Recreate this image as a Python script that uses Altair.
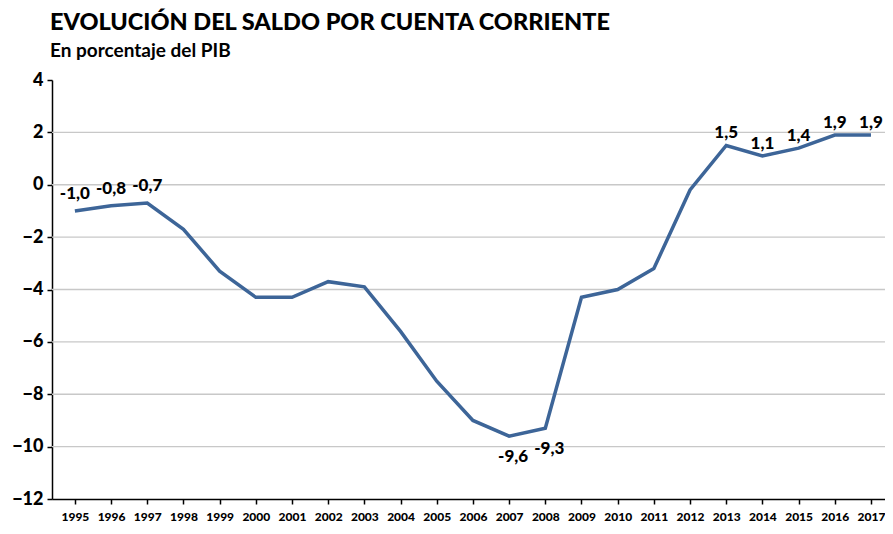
import altair as alt
import pandas as pd

years = [str(y) for y in range(1995, 2018)]
values = [-1.0, -0.8, -0.7, -1.7, -3.3, -4.3, -4.3, -3.7, -3.9, -5.6, -7.5, -9.0,
          -9.6, -9.3, -4.3, -4.0, -3.2, -0.2, 1.5, 1.1, 1.4, 1.9, 1.9]
labels_above_left = ["1995", "1996", "1997"]
labels_above_right = ["2013", "2014", "2015", "2016", "2017"]
labels_below = ["2007", "2008"]
grid_values = [2, 0, -2, -4, -6, -8, -10]
y_ticks = [4, 2, 0, -2, -4, -6, -8, -10, -12]

df = pd.DataFrame({"year": years, "value": values})
df["label"] = df["value"].map(lambda v: f"{v:.1f}".replace(".", ","))
above_l = df[df["year"].isin(labels_above_left)]
above_r = df[df["year"].isin(labels_above_right)]
below = df[df["year"].isin(labels_below)]
grid = pd.DataFrame({"value": grid_values})

FONT = "Lato"
W = 900
xscale = alt.Scale(type="point", padding=0.51, align=0.62)
yscale = alt.Scale(domain=[-12, 4], nice=False, zero=False)

x_axis = alt.Axis(title=None, labelAngle=0, labelFont=FONT, labelFontSize=12,
                  labelFontWeight=W, labelColor="#000", domainColor="#000",
                  domainWidth=1.5, tickColor="#000", tickWidth=1.5, tickSize=5,
                  labelPadding=7, grid=False)
y_axis = alt.Axis(title=None, values=y_ticks,
                  labelFont=FONT, labelFontSize=18, labelFontWeight=W,
                  labelColor="#000", domainColor="#000", domainWidth=1.5,
                  tickColor="#000", tickWidth=1.5, tickSize=5, labelPadding=4,
                  grid=False)

rules = alt.Chart(grid).mark_rule(color="#c8c8c8", strokeWidth=1.3).encode(
    y=alt.Y("value:Q", scale=yscale, axis=y_axis)
)

line = alt.Chart(df).mark_line(color="#3d6598", strokeWidth=3.5).encode(
    x=alt.X("year:O", scale=xscale, sort=years, axis=x_axis),
    y=alt.Y("value:Q", scale=yscale, axis=y_axis))


def labels(data, dy, dx=0):
    return alt.Chart(data).mark_text(font=FONT, fontSize=17, fontWeight=W,
                                     color="#000", dy=dy, dx=dx).encode(
        x=alt.X("year:O", scale=xscale, sort=years),
        y=alt.Y("value:Q", scale=yscale),
        text="label:N")


chart = alt.layer(rules, line, labels(above_l, -17), labels(above_r, -12),
                  labels(below, 21, 4)).properties(
    width=833, height=419,
    autosize=alt.AutoSizeParams(type="none"),
    padding={"left": 44, "top": 72, "right": 0, "bottom": 27},
    title=alt.TitleParams(
        text="EVOLUCIÓN DEL SALDO POR CUENTA CORRIENTE",
        subtitle="En porcentaje del PIB",
        anchor="start", frame="group", dx=-2, offset=10,
        font=FONT, fontSize=23.5, fontWeight=W, color="#000",
        subtitleFont=FONT, subtitleFontSize=19, subtitleFontWeight="bold",
        subtitleColor="#000", subtitlePadding=8,
    ),
).configure_view(stroke=None)

chart.save("out.html", embed_options={"renderer": "svg", "actions": False})
